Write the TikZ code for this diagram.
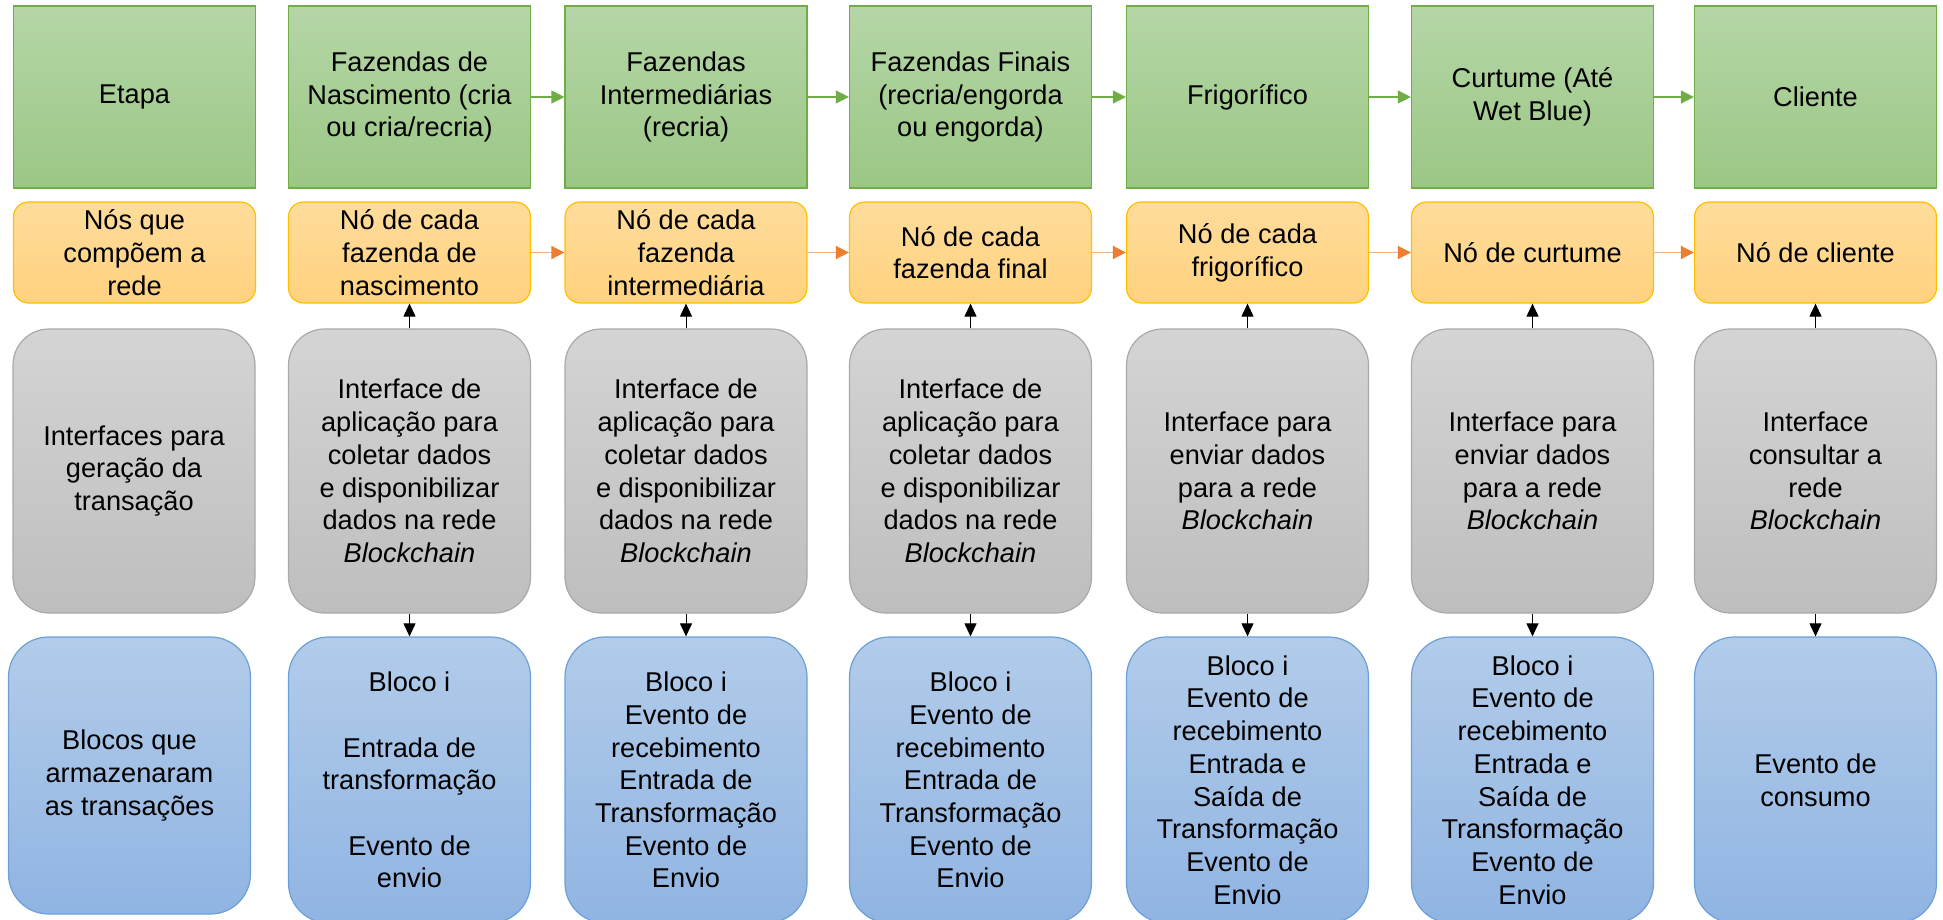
\documentclass[tikz,border=0pt]{standalone}
\usepackage{fontspec}
\setmainfont{Liberation Sans}
\usetikzlibrary{arrows.meta}
\definecolor{greenline}{HTML}{70AD47}
\definecolor{greentop}{HTML}{B5D6A7}
\definecolor{greenbot}{HTML}{9BC785}
\definecolor{orangeline}{HTML}{FFC000}
\definecolor{orangetop}{HTML}{FFDC9C}
\definecolor{orangebot}{HTML}{FFD27E}
\definecolor{orangearr}{HTML}{F4B183}
\definecolor{orangehead}{HTML}{ED7D31}
\definecolor{grayline}{HTML}{A9A9A9}
\definecolor{graytop}{HTML}{D4D4D4}
\definecolor{graybot}{HTML}{BEBEBE}
\definecolor{blueline}{HTML}{6A9FD8}
\definecolor{bluetop}{HTML}{B2CCEA}
\definecolor{bluebot}{HTML}{90B4E2}
\begin{document}
\begin{tikzpicture}[x=1pt,y=-1pt,
  box/.style={inner sep=0pt, align=center, font=\fontsize{27.2}{32.7}\selectfont, minimum width=242pt, line width=1.2pt, text=black},
  greenbox/.style={box, draw=greenline, top color=greentop, bottom color=greenbot, minimum height=182pt},
  orangebox/.style={box, draw=orangeline, top color=orangetop, bottom color=orangebot, rounded corners=15pt, minimum height=101pt},
  graybox/.style={box, draw=grayline, top color=graytop, bottom color=graybot, rounded corners=36pt, minimum height=284pt},
  bluebox/.style={box, draw=blueline, top color=bluetop, bottom color=bluebot, rounded corners=40pt, minimum height=286pt},
  garrow/.style={draw=greenline, line width=1.3pt, -{Triangle[length=13pt,width=13pt]}},
  oarrow/.style={draw=orangearr, line width=1.6pt, -{Triangle[length=13pt,width=13pt,color=orangehead]}},
  karrow/.style={draw=black, line width=1pt, -{Triangle[length=13pt,width=12pt]}}
]
\useasboundingbox (0,0) rectangle (1943,920);
\clip (0,0) rectangle (1943,920);

% green row
\node[greenbox] (g1) at (134.5,97) {Etapa};
\node[greenbox] (g2) at (409.5,97) {Fazendas de\\Nascimento (cria\\ou cria/recria)};
\node[greenbox] (g3) at (686,97) {Fazendas\\Intermediárias\\(recria)};
\node[greenbox] (g4) at (970.5,97) {Fazendas Finais\\(recria/engorda\\ou engorda)};
\node[greenbox] (g5) at (1247.5,97) {Frigorífico};
\node[greenbox] (g6) at (1532.5,97) {Curtume (Até\\Wet Blue)};
\node[greenbox] (g7) at (1815.5,97) {Cliente};

% orange row
\node[orangebox] (o1) at (134.5,252.5) {Nós que\\compõem a\\rede};
\node[orangebox] (o2) at (409.5,252.5) {Nó de cada\\fazenda de\\nascimento};
\node[orangebox] (o3) at (686,252.5) {Nó de cada\\fazenda\\intermediária};
\node[orangebox] (o4) at (970.5,252.5) {Nó de cada\\fazenda final};
\node[orangebox] (o5) at (1247.5,252.5) {Nó de cada\\frigorífico};
\node[orangebox] (o6) at (1532.5,252.5) {Nó de curtume};
\node[orangebox] (o7) at (1815.5,252.5) {Nó de cliente};

% gray row
\node[graybox] (r1) at (134,471) {Interfaces para\\geração da\\transação};
\node[graybox] (r2) at (409.5,471) {Interface de\\aplicação para\\coletar dados\\e disponibilizar\\dados na rede\\\textit{Blockchain}};
\node[graybox] (r3) at (686,471) {Interface de\\aplicação para\\coletar dados\\e disponibilizar\\dados na rede\\\textit{Blockchain}};
\node[graybox] (r4) at (970.5,471) {Interface de\\aplicação para\\coletar dados\\e disponibilizar\\dados na rede\\\textit{Blockchain}};
\node[graybox] (r5) at (1247.5,471) {Interface para\\enviar dados\\para a rede\\\textit{Blockchain}};
\node[graybox] (r6) at (1532.5,471) {Interface para\\enviar dados\\para a rede\\\textit{Blockchain}};
\node[graybox] (r7) at (1815.5,471) {Interface\\consultar a\\rede\\\textit{Blockchain}};

% blue row
\node[bluebox, minimum height=277pt] (b1) at (129.5,775.5) {Blocos que\\armazenaram\\as transações};
\node[bluebox] (b2) at (409.5,780) {Bloco i\\\strut\\Entrada de\\transformação\\\strut\\Evento de\\envio};
\node[bluebox] (b3) at (686,780) {Bloco i\\Evento de\\recebimento\\Entrada de\\Transformação\\Evento de\\Envio};
\node[bluebox] (b4) at (970.5,780) {Bloco i\\Evento de\\recebimento\\Entrada de\\Transformação\\Evento de\\Envio};
\node[bluebox] (b5) at (1247.5,780) {Bloco i\\Evento de\\recebimento\\Entrada e\\Saída de\\Transformação\\Evento de\\Envio};
\node[bluebox] (b6) at (1532.5,780) {Bloco i\\Evento de\\recebimento\\Entrada e\\Saída de\\Transformação\\Evento de\\Envio};
\node[bluebox] (b7) at (1815.5,780) {Evento de\\consumo};

% horizontal arrows
\foreach \a/\b in {2/3,3/4,4/5,5/6,6/7}{
  \draw[garrow] (g\a.east) -- (g\b.west);
  \draw[oarrow] (o\a.east) -- (o\b.west);
}
% vertical arrows
\foreach \c in {2,...,7}{
  \draw[karrow] (r\c.north) -- (o\c.south);
  \draw[karrow] (r\c.south) -- (b\c.north);
}
\end{tikzpicture}
\end{document}
